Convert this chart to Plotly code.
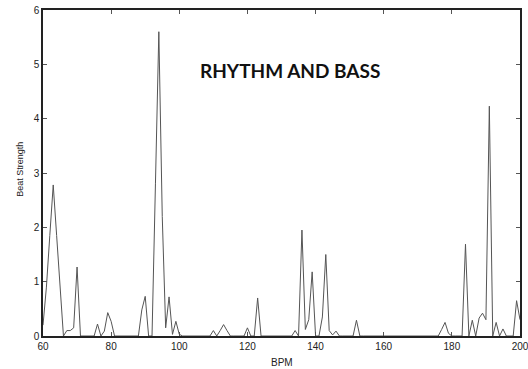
import plotly.graph_objects as go

bpm = list(range(60, 201))
strength = [
    0.2, 0.9, 1.85, 2.78, 1.85, 0.92, 0, 0.1, 0.1, 0.15,          # 60-69
    1.27, 0, 0, 0, 0, 0, 0.22, 0, 0.09, 0.43,                      # 70-79
    0.27, 0, 0, 0, 0, 0, 0, 0, 0, 0.48,                            # 80-89
    0.73, 0, 0, 2.8, 5.6, 2.2, 0.15, 0.72, 0.03, 0.27,             # 90-99
    0.03, 0, 0, 0, 0, 0, 0, 0, 0, 0,                               # 100-109
    0.1, 0, 0.1, 0.21, 0.1, 0, 0, 0, 0, 0,                         # 110-119
    0.15, 0, 0, 0.7, 0, 0, 0, 0, 0, 0,                             # 120-129
    0, 0, 0, 0, 0.1, 0, 1.95, 0.12, 0.3, 1.18,                     # 130-139
    0, 0, 0.35, 1.5, 0.1, 0.02, 0.09, 0, 0, 0,                     # 140-149
    0, 0, 0.29, 0, 0, 0, 0, 0, 0, 0,                               # 150-159
    0, 0, 0, 0, 0, 0, 0, 0, 0, 0,                                  # 160-169
    0, 0, 0, 0, 0, 0, 0, 0.12, 0.25, 0.05,                         # 170-179
    0, 0, 0, 0, 1.69, 0, 0.29, 0, 0.33, 0.42,                      # 180-189
    0.3, 4.23, 0, 0.25, 0, 0.13, 0, 0, 0, 0.65,                    # 190-199
    0.3,                                                           # 200
]

x_ticks = [60, 80, 100, 120, 140, 160, 180, 200]
y_ticks = [0, 1, 2, 3, 4, 5, 6]
title_text = "RHYTHM AND BASS"
x_label = "BPM"
y_label = "Beat Strength"

fig = go.Figure()
fig.add_trace(go.Scatter(
    x=bpm, y=strength, mode="lines",
    line=dict(color="#555555", width=1),
    hoverinfo="skip", showlegend=False,
))

fig.add_annotation(
    x=132.5, y=4.88, xref="x", yref="y",
    text=f"<b>{title_text}</b>", showarrow=False,
    font=dict(family="Lato", size=19, color="#111111"),
)
fig.add_annotation(
    x=0.5, y=-0.08, xref="paper", yref="paper", yanchor="middle",
    text=x_label, showarrow=False,
    font=dict(family="Liberation Sans", size=10, color="#222222"),
)
fig.add_annotation(
    x=-0.048, y=0.51, xref="paper", yref="paper", xanchor="center",
    text=y_label, showarrow=False, textangle=-90,
    font=dict(family="Liberation Sans", size=9, color="#222222"),
)

axis_common = dict(
    showgrid=False, zeroline=False, automargin=False,
    showline=True, linecolor="#222222", linewidth=1.5, mirror="ticks",
    ticks="inside", ticklen=4, tickcolor="#555555", tickwidth=1,
    ticklabeloverflow="allow",
    tickfont=dict(family="Liberation Sans", size=10, color="#222222"),
)

fig.update_layout(
    width=528, height=369,
    margin=dict(l=43, r=8, t=10, b=33),
    paper_bgcolor="white", plot_bgcolor="white",
    xaxis=dict(range=[60, 200], tickvals=x_ticks, **axis_common),
    yaxis=dict(range=[0, 6], tickvals=y_ticks, **axis_common),
)

fig.write_html(
    "out.html",
    config={"displayModeBar": False},
    post_script="document.body.style.margin='0';document.body.style.overflow='hidden';",
)
